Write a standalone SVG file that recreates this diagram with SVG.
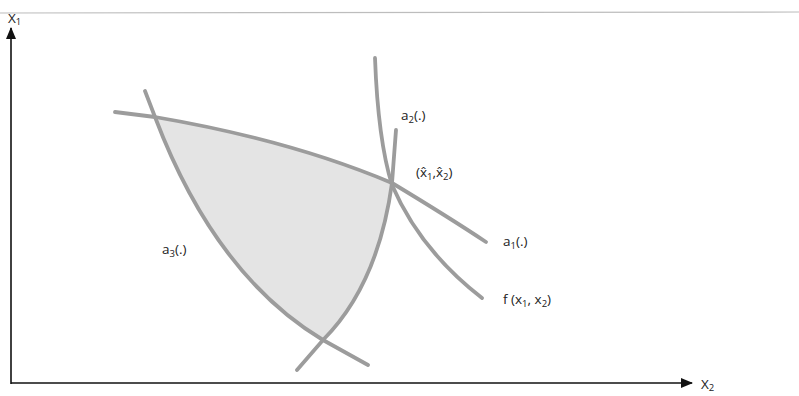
<svg xmlns="http://www.w3.org/2000/svg" width="799" height="396" viewBox="0 0 799 396">
<style>
  .curve { fill: none; stroke: #9c9c9c; stroke-width: 3.8; stroke-linecap: round; }
  .axis { fill: none; stroke: #111; stroke-width: 1.6; }
  .lbl { font-family: "Open Sans", "Liberation Sans", sans-serif; font-size: 13.5px; fill: #222; }
  .sub { font-size: 9.5px; }
</style>
<defs>
  <marker id="arr" viewBox="0 0 12 10" refX="11" refY="5" markerWidth="12" markerHeight="10" markerUnits="userSpaceOnUse" orient="auto">
    <path d="M0,0 L12,5 L0,10 Z" fill="#111"/>
  </marker>
</defs>
<rect width="799" height="396" fill="#ffffff"/>
<line x1="0" y1="13" x2="799" y2="12" stroke="#bdbdbd" stroke-width="1.2"/>

<g id="feasible-region">
  <path d="M155,117 Q290,140 392,183 Q378,285 323,340 Q215,275 155,117 Z" fill="#e4e4e4"/>
</g>

<g id="connectors">
  <path id="axis-x1" class="axis" d="M11,384 L11,28" marker-end="url(#arr)"/>
  <path id="axis-x2" class="axis" d="M11,383 L692,383" marker-end="url(#arr)"/>
  <path id="curve-a1" class="curve" d="M115,112 L155,117 Q290,140 392,183 Q450,218 486,242"/>
  <path id="curve-a3" class="curve" d="M145,91 L155,117 Q215,275 323,340 L368,365"/>
  <path id="curve-a2" class="curve" d="M396,130 L392,183 Q378,285 323,340 L297,370"/>
  <path id="curve-f" class="curve" d="M375,58 Q378,140 392,185 Q420,250 482,298"/>
</g>

<g id="label-x1"><text class="lbl" x="8" y="23">X<tspan class="sub" dy="2">1</tspan></text></g>
<g id="label-x2"><text class="lbl" x="701" y="389">X<tspan class="sub" dy="2">2</tspan></text></g>
<g id="label-a2"><text class="lbl" x="401" y="120">a<tspan class="sub" dy="3">2</tspan><tspan dy="-3">(.)</tspan></text></g>
<g id="label-opt"><text class="lbl" x="416" y="177">(x̂<tspan class="sub" dy="3">1</tspan><tspan dy="-3">,x̂</tspan><tspan class="sub" dy="3">2</tspan><tspan dy="-3">)</tspan></text></g>
<g id="label-a1"><text class="lbl" x="503" y="246">a<tspan class="sub" dy="3">1</tspan><tspan dy="-3">(.)</tspan></text></g>
<g id="label-f"><text class="lbl" x="503" y="304">f (x<tspan class="sub" dy="3">1</tspan><tspan dy="-3">, x</tspan><tspan class="sub" dy="3">2</tspan><tspan dy="-3">)</tspan></text></g>
<g id="label-a3"><text class="lbl" x="162" y="254">a<tspan class="sub" dy="3">3</tspan><tspan dy="-3">(.)</tspan></text></g>
</svg>
